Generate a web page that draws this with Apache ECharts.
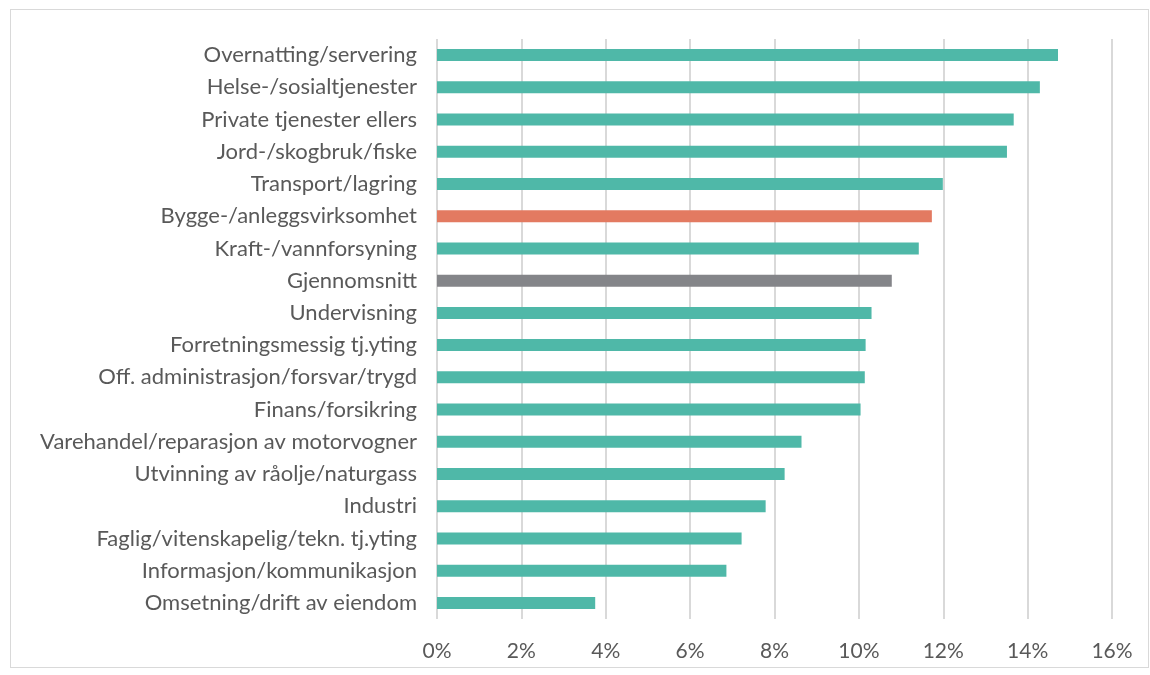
<!DOCTYPE html>
<html><head><meta charset="utf-8">
<script src="https://cdn.jsdelivr.net/npm/echarts@6/dist/echarts.min.js"></script>
<style>html,body{margin:0;padding:0;background:#fff}#c{width:1150px;height:675px}
#frame{position:absolute;left:10px;top:9px;width:1139px;height:659px;border:1px solid #d9d9d9;box-sizing:border-box;pointer-events:none}</style>
</head><body><div id="c"></div><div id="frame"></div>
<script>
const categories = ["Overnatting/servering","Helse-/sosialtjenester","Private tjenester ellers","Jord-/skogbruk/fiske","Transport/lagring","Bygge-/anleggsvirksomhet","Kraft-/vannforsyning","Gjennomsnitt","Undervisning","Forretningsmessig tj.yting","Off. administrasjon/forsvar/trygd","Finans/forsikring","Varehandel/reparasjon av motorvogner","Utvinning av råolje/naturgass","Industri","Faglig/vitenskapelig/tekn. tj.yting","Informasjon/kommunikasjon","Omsetning/drift av eiendom"];
const values = [14.72,14.29,13.67,13.51,11.99,11.73,11.42,10.78,10.30,10.16,10.14,10.04,8.64,8.24,7.79,7.22,6.86,3.75];
const xTicks = [0,2,4,6,8,10,12,14,16];
const colors = {normal:"#4FB8A8", highlight:"#E37A61", average:"#848589"};
const highlight = "Bygge-/anleggsvirksomhet", average = "Gjennomsnitt";
const chart = echarts.init(document.getElementById('c'));
chart.setOption({
  animation:false,
  grid:{left:437,right:38,top:39,bottom:56,containLabel:false},
  xAxis:{type:'value',min:xTicks[0],max:xTicks[xTicks.length-1],interval:2,
    axisLabel:{formatter:v=>v+'%',color:'#595959',fontSize:21,fontFamily:'Lato',margin:22},
    axisLine:{show:false},axisTick:{show:false},
    splitLine:{lineStyle:{color:'#d9d9d9',width:2}}},
  yAxis:{type:'category',data:categories,inverse:true,
    axisLabel:{color:'#595959',fontSize:22,fontFamily:'Lato',margin:20},
    axisLine:{show:false},axisTick:{show:false}},
  series:[{type:'bar',barWidth:12,
    data:values.map((v,i)=>({value:v,itemStyle:{color:categories[i]===highlight?colors.highlight:categories[i]===average?colors.average:colors.normal}}))}]
});
</script></body></html>
